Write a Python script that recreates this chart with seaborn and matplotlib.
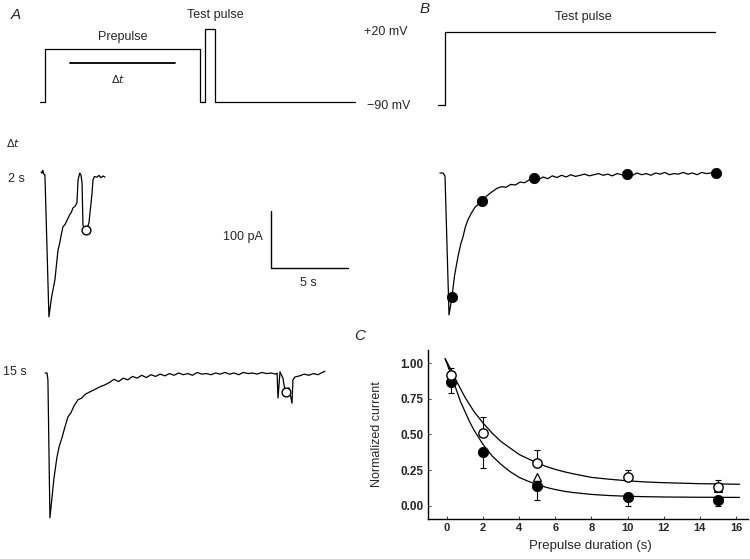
import numpy as np
import pandas as pd
import seaborn as sns
import matplotlib.pyplot as plt

# ---- data ----
# voltage protocols (s, mV)
protA_t = [0, 0.32, 0.32, 10.39, 10.39, 10.71, 10.71, 11.36, 11.36, 20.45]
protA_v = [-90, -90, -10, -10, -90, -90, 20, 20, -90, -90]
dt_bar_t = [1.95, 8.77]
dt_bar_v = [-31.5, -31.5]
protB_t = [0, 0.45, 0.45, 17.99]
protB_v = [-90, -90, 20, 20]

# current trace, prepulse 2 s (s, pA)
t2 = [-0.06, 0.0, 0.05, 0.12, 0.19, 0.45, 0.62, 0.84, 0.95, 1.04, 1.15, 1.25,
      1.36, 1.5, 1.6, 1.69, 1.8, 1.9, 2.01, 2.15, 2.27, 2.34, 2.45, 2.53, 2.60,
      2.66, 2.86, 3.05, 3.25, 3.31, 3.4, 3.57, 3.7, 3.83, 3.96, 4.09]
i2 = [0, -2, 3, -4, -5, -254, -220, -189, -160, -137, -125, -110,
      -96, -92, -86, -81, -75, -71, -63, -60, -54, -14, -2, -5, -19,
      -93, -105, -89, -37, -14, -8, -9, -6, -10, -7, -9]
peak2_t = [2.86]
peak2_i = [-102]

# current trace, prepulse 15 s
t15_rise = [-0.12, 0, 0.06, 0.19, 0.30, 0.45, 0.65, 0.80, 0.97, 1.15, 1.36,
            1.55, 1.75, 2.01, 2.25, 2.5, 2.79, 3.1, 3.45, 3.75, 4.09]
i15_rise = [0, 0, -12, -254, -225, -185, -147, -128, -114, -96, -77,
            -70, -58, -47, -44, -37, -33, -29, -24, -21, -16]
t15_plat = [4.35, 4.65, 4.95, 5.25, 5.55, 5.85, 6.15, 6.45, 6.75, 7.05, 7.35, 7.65,
            7.95, 8.25, 8.55, 8.85, 9.15, 9.45, 9.75, 10.05, 10.35, 10.65, 10.95, 11.25,
            11.55, 11.85, 12.15, 12.45, 12.75, 13.05, 13.35, 13.65, 13.95, 14.25, 14.55, 14.85]
i15_plat = [-11, -15, -9, -12, -6, -9, -4, -8, -3, -6, -2, -5,
            -1, -4, 0, -3, -1, -4, 1, -2, -1, -3, 0, -2,
            1, -2, 0, -3, 1, -1, 0, -2, 1, -1, 0, -2]
t15_ev = [14.94, 15.0, 15.13, 15.32, 15.45, 15.71, 15.91, 15.97, 16.1, 16.4, 16.7,
          17.0, 17.3, 17.6, 17.8, 18.05]
i15_ev = [0, -44, 2, -9, -30, -26, -53, -12, -7, -5, -2, -4, -1, -3, 0, 3]
peak15_t = [15.52]
peak15_i = [-33]

# test pulse current, panel B
tB_rise = [-0.2, 0, 0.13, 0.39, 0.58, 0.75, 0.97, 1.15, 1.30, 1.45, 1.62, 1.85,
           2.08, 2.3, 2.53, 2.85, 3.18]
iB_rise = [0, 0, -5, -249, -218, -180, -147, -125, -112, -95, -82, -70,
           -60, -55, -49, -40, -33]
tB_plat = [3.5, 3.8, 4.1, 4.4, 4.7, 5.0, 5.3, 5.6, 5.91, 6.2, 6.5, 6.8, 7.1, 7.4, 7.7,
           8.0, 8.3, 8.6, 8.9, 9.2, 9.5, 9.8, 10.1, 10.4, 10.7, 11.0, 11.3, 11.6, 11.95,
           12.3, 12.6, 12.9, 13.2, 13.5, 13.8, 14.1, 14.4, 14.7, 15.0, 15.3, 15.6, 15.9,
           16.2, 16.5, 16.8, 17.1, 17.4, 17.73]
iB_plat = [-27, -24, -25, -20, -21, -16, -17, -12, -9, -12, -7, -10, -5, -8, -4,
           -7, -3, -6, -4, -2, -5, -3, -1, -4, -2, -5, -1, -3, -2,
           -4, 0, -3, -1, -4, 0, -2, 1, -3, -1, -2, 1, -2, 0, -3, 1, -1, 0, 0]
dotsB_t = [0.58, 2.53, 5.91, 11.95, 17.73]
dotsB_i = [-218, -49, -9, -2, 0]

# scale bar (s, pA)
bar_t = [0, 0, 5]
bar_i = [100, 0, 0]

# panel C
dur = [0.25, 2, 5, 10, 15]
open_mean = [0.915, 0.51, 0.30, 0.20, 0.13]
open_err = [0.05, 0.115, 0.09, 0.055, 0.05]
filled_mean = [0.87, 0.375, 0.14, 0.065, 0.045]
filled_err = [0.08, 0.11, 0.095, 0.065, 0.045]
tri_dur = [5, 15]
tri_mean = [0.205, 0.125]
fit_t = [-0.1, 0.25, 0.5, 0.75, 1, 1.25, 1.5, 1.75, 2, 2.25, 2.5, 2.75, 3, 3.5, 4,
         4.5, 5, 5.5, 6, 6.5, 7, 8, 9, 10, 11, 12, 14, 16.2]
fit_open = [1.03, 0.947, 0.88, 0.82, 0.76, 0.71, 0.66, 0.62, 0.58, 0.545, 0.51, 0.48,
            0.45, 0.405, 0.36, 0.33, 0.30, 0.276, 0.256, 0.239, 0.225, 0.20, 0.187,
            0.176, 0.168, 0.163, 0.156, 0.152]
fit_filled = [1.03, 0.91, 0.82, 0.73, 0.66, 0.59, 0.53, 0.48, 0.43, 0.39, 0.35, 0.32,
              0.29, 0.24, 0.20, 0.173, 0.15, 0.13, 0.115, 0.103, 0.094, 0.081, 0.073,
              0.068, 0.065, 0.063, 0.061, 0.06]

# ---- figure ----
sns.set_theme(style="white")
plt.rcParams['font.family'] = ['Liberation Sans', 'DejaVu Sans']

W, H = 750, 559
fig = plt.figure(figsize=(7.5, 5.59), dpi=100)

PX_S = 15.4    # pixels per second
PX_PA = 0.57   # pixels per pA
PX_MV = 0.667  # pixels per mV


def place_ax(x0, y0, sx, sy, xlim, ylim):
    # axes whose data origin sits at pixel (x0, y0), sx/sy pixels per unit
    left = x0 + xlim[0] * sx
    right = x0 + xlim[1] * sx
    top = y0 - ylim[1] * sy
    bottom = y0 - ylim[0] * sy
    ax = fig.add_axes([left / W, 1 - bottom / H, (right - left) / W, (bottom - top) / H])
    ax.set_xlim(xlim)
    ax.set_ylim(ylim)
    ax.axis('off')
    return ax


def txt(x, y, s, **kw):
    kw.setdefault('ha', 'center')
    kw.setdefault('va', 'center')
    kw.setdefault('fontsize', 9)
    fig.text(x / W, 1 - y / H, s, **kw)


def trace(ax, t, y, lw=0.9):
    sns.lineplot(x=t, y=y, ax=ax, sort=False, estimator=None, color='black', lw=lw)


# panel A protocol
axPA = place_ax(40, 42, PX_S, PX_MV, (-0.5, 21), (-100, 30))
trace(axPA, protA_t, protA_v)
trace(axPA, dt_bar_t, dt_bar_v, lw=1.3)

# panel B protocol
axPB = place_ax(438, 45, PX_S, PX_MV, (-0.5, 18.5), (-100, 30))
trace(axPB, protB_t, protB_v)

# 2 s trace
ax2 = place_ax(42, 172, PX_S, PX_PA, (-0.5, 4.5), (-270, 15))
trace(ax2, t2, i2)
sns.scatterplot(x=peak2_t, y=peak2_i, ax=ax2, s=40, marker='o', facecolor='white',
                edgecolor='black', linewidth=1.0, zorder=5)

# scale bar
axS = place_ax(271, 268, PX_S, PX_PA, (-0.5, 5.5), (-10, 110))
trace(axS, bar_t, bar_i, lw=1.0)

# 15 s trace
ax15 = place_ax(47, 373, PX_S, PX_PA, (-0.5, 18.5), (-270, 15))
trace(ax15, t15_rise + t15_plat + t15_ev, i15_rise + i15_plat + i15_ev)
sns.scatterplot(x=peak15_t, y=peak15_i, ax=ax15, s=40, marker='o', facecolor='white',
                edgecolor='black', linewidth=1.0, zorder=5)

# B trace
axB = place_ax(443, 173, PX_S, PX_PA, (-0.5, 18.3), (-265, 15))
trace(axB, tB_rise + tB_plat, iB_rise + iB_plat)
sns.scatterplot(x=dotsB_t, y=dotsB_i, ax=axB, s=55, color='black', edgecolor='black',
                zorder=5, clip_on=False)

# texts
txt(16, 15, 'A', fontsize=11, style='italic')
txt(425, 9, 'B', fontsize=11, style='italic')
txt(360, 336, 'C', fontsize=11, style='italic')
txt(215, 15, 'Test pulse')
txt(123, 37, 'Prepulse')
txt(118, 79, r'$\Delta t$', fontsize=8)
txt(583, 17, 'Test pulse')
txt(407, 32, '+20 mV', ha='right')
txt(410, 106, '\u221290 mV', ha='right')
txt(13, 143, r'$\Delta t$', fontsize=8)
txt(8, 179, '2 s', ha='left')
txt(3, 372, '15 s', ha='left')
txt(263, 237, '100 pA', ha='right')
txt(308, 283, '5 s')

# panel C
axC = fig.add_axes([428 / W, 1 - 519 / H, (748 - 428) / W, (519 - 350) / H])
sns.lineplot(x=fit_t, y=fit_open, ax=axC, color='black', lw=0.9)
sns.lineplot(x=fit_t, y=fit_filled, ax=axC, color='black', lw=0.9)
axC.errorbar(dur, open_mean, yerr=[[0] * 5, open_err], fmt='none', ecolor='black',
             elinewidth=0.8, capsize=2.5, capthick=0.8, zorder=3)
axC.errorbar(dur, filled_mean, yerr=[filled_err, [0] * 5], fmt='none', ecolor='black',
             elinewidth=0.8, capsize=2.5, capthick=0.8, zorder=3)
sns.scatterplot(x=tri_dur, y=tri_mean, ax=axC, marker='^', s=32, facecolor='white',
                edgecolor='black', linewidth=0.9, zorder=4)
sns.scatterplot(x=dur, y=filled_mean, ax=axC, s=55, color='black', edgecolor='black',
                zorder=5)
sns.scatterplot(x=dur, y=open_mean, ax=axC, s=45, facecolor='white', edgecolor='black',
                linewidth=1.0, zorder=6)

axC.set_xlim(-1.05, 16.67)
axC.set_ylim(-0.091, 1.091)
axC.set_xticks(range(0, 17, 2))
axC.set_yticks([0, 0.25, 0.5, 0.75, 1.0])
axC.set_yticklabels(['0.00', '0.25', '0.50', '0.75', '1.00'])
axC.tick_params(direction='in', length=2.5, width=0.6, pad=3, bottom=True, left=True)
axC.tick_params(axis='x', labelsize=8)
axC.tick_params(axis='y', labelsize=8.5)
plt.setp(axC.get_xticklabels() + axC.get_yticklabels(), fontweight='bold')
axC.set_xlabel('Prepulse duration (s)', fontsize=9.5)
axC.set_ylabel('Normalized current', fontsize=9)
axC.xaxis.set_label_coords((590 - 428) / 320, (519 - 540) / 169)
axC.yaxis.set_label_coords((383 - 428) / 320, 0.5)
sns.despine(ax=axC)
for side in ['left', 'bottom']:
    axC.spines[side].set_color('black')
    axC.spines[side].set_linewidth(1.0)
axC.patch.set_alpha(0)

fig.savefig('out.png', dpi=100)
